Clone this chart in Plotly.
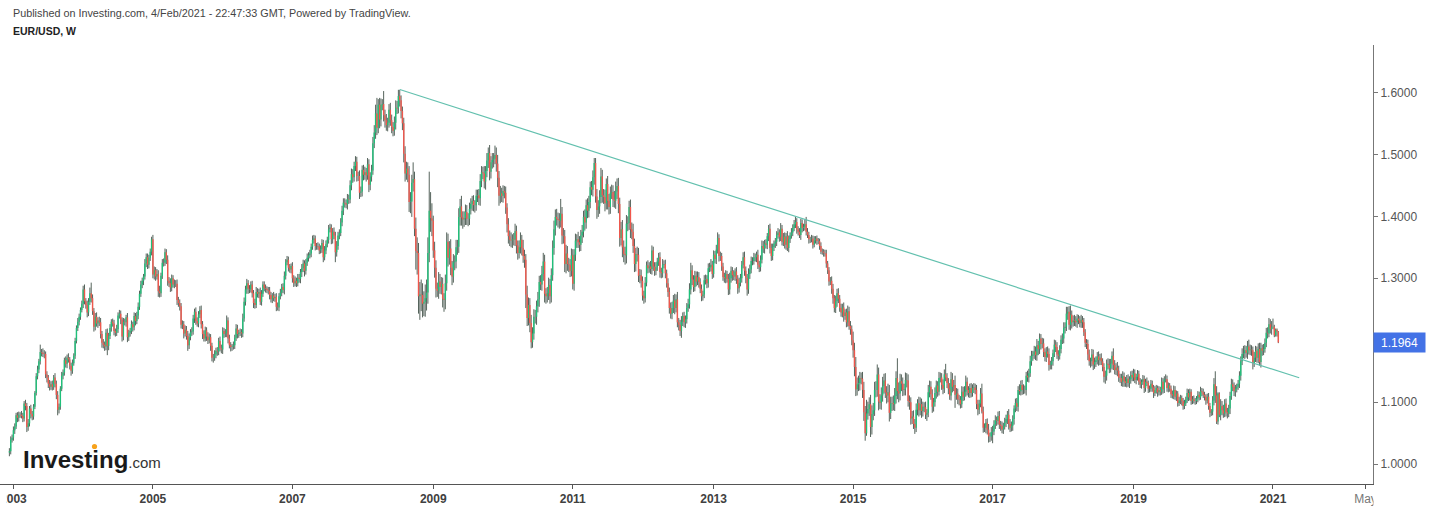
import pandas as pd
import plotly.graph_objects as go

# ---------------- data (weekly EUR/USD) ----------------
first_open = 1.019
c2002 = [1.021, 1.039, 1.043]
u2002 = [5, 6, 5]
d2002 = [6, 5, 4]

c2003 = [1.055, 1.061, 1.079, 1.075, 1.080, 1.080, 1.078, 1.074, 1.098, 1.094, 1.060, 1.066, 1.090,
         1.081, 1.077, 1.093, 1.115, 1.142, 1.153, 1.166, 1.181, 1.180, 1.178, 1.178, 1.145, 1.140,
         1.130, 1.125, 1.129, 1.125, 1.140, 1.130, 1.112, 1.088, 1.093, 1.122, 1.143, 1.148, 1.168,
         1.162, 1.172, 1.169, 1.159, 1.151, 1.163, 1.175, 1.199, 1.220, 1.230, 1.238, 1.249, 1.259]
u2003 = [6, 5, 4, 5, 5, 4, 6, 5, 4, 6, 5, 7, 4, 6, 5, 4, 3, 5, 6, 4, 12, 5, 7, 6, 4, 5,
         4, 6, 5, 6, 4, 7, 5, 6, 5, 4, 6, 5, 4, 6, 5, 7, 4, 5, 6, 4, 5, 4, 6, 5, 4, 5]
d2003 = [5, 6, 4, 7, 6, 5, 4, 6, 5, 7, 8, 6, 5, 7, 6, 5, 4, 4, 5, 6, 5, 6, 5, 7, 6, 8,
         7, 6, 5, 6, 5, 6, 7, 9, 6, 5, 4, 6, 5, 6, 7, 5, 6, 8, 5, 4, 5, 4, 5, 6, 5, 4]

c2004 = [1.282, 1.263, 1.257, 1.245, 1.262, 1.276, 1.268, 1.247, 1.222, 1.238, 1.227, 1.232, 1.229,
         1.210, 1.196, 1.193, 1.190, 1.212, 1.191, 1.207, 1.220, 1.230, 1.227, 1.215, 1.212, 1.218,
         1.240, 1.243, 1.233, 1.206, 1.230, 1.229, 1.237, 1.205, 1.212, 1.215, 1.226, 1.221, 1.239,
         1.231, 1.240, 1.254, 1.275, 1.290, 1.296, 1.303, 1.324, 1.334, 1.322, 1.333, 1.343, 1.363]
u2004 = [6, 8, 5, 7, 6, 9, 17, 6, 5, 6, 7, 5, 6, 7, 5, 6, 5, 6, 7, 5, 6, 4, 5, 6, 4, 7,
         5, 6, 5, 4, 6, 5, 4, 7, 5, 5, 6, 4, 6, 5, 6, 7, 5, 6, 5, 4, 7, 6, 6, 5, 5, 4]
d2004 = [7, 5, 6, 8, 6, 5, 7, 6, 8, 6, 5, 7, 6, 7, 8, 6, 7, 6, 15, 7, 5, 6, 5, 7, 6, 5,
         6, 5, 7, 8, 6, 5, 7, 8, 6, 6, 5, 7, 5, 7, 5, 6, 5, 5, 6, 7, 5, 6, 7, 6, 5, 6]

c2005 = [1.306, 1.313, 1.303, 1.307, 1.279, 1.276, 1.304, 1.325, 1.325, 1.342, 1.330, 1.296, 1.292,
         1.285, 1.300, 1.290, 1.291, 1.291, 1.265, 1.260, 1.255, 1.225, 1.226, 1.211, 1.217, 1.207,
         1.192, 1.205, 1.213, 1.214, 1.235, 1.246, 1.231, 1.227, 1.242, 1.249, 1.226, 1.210, 1.203,
         1.216, 1.206, 1.200, 1.205, 1.191, 1.172, 1.172, 1.177, 1.183, 1.182, 1.199, 1.187, 1.185]
u2005 = [7, 6, 5, 8, 6, 9, 5, 6, 7, 6, 5, 7, 6, 8, 6, 5, 7, 6, 7, 5, 6, 5, 6, 5, 7, 6,
         8, 6, 5, 7, 6, 5, 7, 6, 5, 6, 7, 5, 6, 6, 5, 7, 6, 5, 5, 6, 7, 5, 6, 5, 7, 6]
d2005 = [6, 8, 7, 5, 9, 7, 6, 5, 6, 5, 7, 8, 6, 7, 6, 5, 6, 5, 8, 6, 7, 6, 7, 8, 5, 6,
         9, 6, 5, 6, 5, 7, 6, 5, 6, 6, 7, 8, 5, 5, 7, 6, 5, 8, 6, 8, 5, 6, 7, 6, 5, 6]

c2006 = [1.215, 1.210, 1.211, 1.232, 1.203, 1.192, 1.189, 1.190, 1.192, 1.204, 1.219, 1.210, 1.212,
         1.213, 1.211, 1.235, 1.262, 1.282, 1.292, 1.283, 1.282, 1.290, 1.276, 1.260, 1.257, 1.278,
         1.275, 1.278, 1.262, 1.275, 1.290, 1.284, 1.283, 1.281, 1.280, 1.273, 1.266, 1.272, 1.268,
         1.270, 1.254, 1.253, 1.271, 1.277, 1.286, 1.281, 1.304, 1.326, 1.330, 1.317, 1.314, 1.320]
u2006 = [6, 5, 7, 8, 5, 6, 5, 4, 6, 5, 7, 6, 5, 6, 5, 8, 7, 6, 7, 5, 6, 5, 6, 5, 7, 8,
         6, 5, 7, 6, 5, 5, 6, 4, 5, 6, 5, 4, 6, 5, 6, 7, 5, 6, 5, 6, 7, 5, 6, 5, 6, 4]
d2006 = [7, 6, 5, 6, 8, 5, 7, 6, 5, 6, 5, 7, 6, 5, 7, 6, 5, 6, 7, 8, 6, 5, 7, 8, 6, 5,
         6, 7, 5, 6, 5, 5, 6, 5, 6, 7, 5, 6, 5, 6, 7, 5, 6, 5, 6, 5, 7, 6, 5, 6, 5, 6]

c2007 = [1.300, 1.292, 1.296, 1.292, 1.301, 1.299, 1.310, 1.316, 1.324, 1.312, 1.325, 1.333, 1.337,
         1.340, 1.351, 1.362, 1.364, 1.352, 1.352, 1.351, 1.345, 1.347, 1.357, 1.334, 1.345, 1.355,
         1.362, 1.379, 1.382, 1.363, 1.375, 1.369, 1.342, 1.352, 1.369, 1.373, 1.390, 1.409, 1.422,
         1.421, 1.419, 1.428, 1.427, 1.450, 1.468, 1.463, 1.481, 1.488, 1.465, 1.465, 1.438, 1.440,
         1.475]
u2007 = [6, 5, 7, 5, 6, 6, 5, 7, 6, 5, 6, 7, 5, 6, 5, 7, 6, 5, 5, 6, 5, 6, 6, 5, 7, 6,
         5, 7, 6, 5, 6, 7, 6, 8, 6, 6, 7, 8, 7, 7, 6, 8, 7, 8, 9, 8, 7, 9, 8, 7, 9, 8, 7]
d2007 = [7, 6, 5, 6, 5, 6, 7, 8, 6, 9, 6, 5, 6, 5, 6, 5, 6, 7, 6, 5, 6, 5, 6, 8, 5, 6,
         5, 6, 5, 8, 7, 6, 16, 7, 6, 6, 5, 6, 7, 7, 6, 8, 7, 6, 8, 9, 7, 8, 9, 8, 10, 7, 8]

c2008 = [1.467, 1.471, 1.466, 1.484, 1.451, 1.464, 1.474, 1.518, 1.535, 1.566, 1.543, 1.580, 1.556,
         1.580, 1.581, 1.563, 1.555, 1.547, 1.551, 1.572, 1.555, 1.544, 1.538, 1.551, 1.575, 1.574,
         1.594, 1.587, 1.570, 1.550, 1.501, 1.469, 1.477, 1.467, 1.423, 1.424, 1.454, 1.460, 1.380,
         1.344, 1.341, 1.271, 1.274, 1.273, 1.259, 1.262, 1.268, 1.277, 1.341, 1.409, 1.397, 1.393]
u2008 = [8, 9, 7, 10, 8, 7, 9, 10, 12, 14, 25, 9, 11, 10, 8, 21, 9, 10, 8, 9, 11, 9, 8, 10, 12, 11,
         10, 10, 8, 7, 9, 12, 11, 10, 14, 15, 13, 27, 12, 18, 22, 16, 20, 24, 19, 17, 22, 21, 25, 63, 30, 24]
d2008 = [9, 8, 10, 7, 12, 9, 8, 7, 8, 10, 12, 9, 14, 11, 9, 10, 12, 9, 10, 8, 9, 10, 9, 8, 11, 9,
         8, 10, 12, 11, 14, 13, 10, 12, 16, 18, 25, 14, 12, 30, 35, 28, 38, 26, 22, 20, 24, 20, 18, 15, 22, 25]

c2009 = [1.345, 1.317, 1.283, 1.280, 1.295, 1.286, 1.291, 1.267, 1.265, 1.292, 1.359, 1.333, 1.348,
         1.317, 1.303, 1.326, 1.327, 1.350, 1.351, 1.399, 1.416, 1.398, 1.395, 1.397, 1.407, 1.396,
         1.396, 1.412, 1.420, 1.425, 1.418, 1.418, 1.433, 1.434, 1.429, 1.457, 1.471, 1.469, 1.456,
         1.473, 1.490, 1.502, 1.472, 1.487, 1.491, 1.493, 1.499, 1.485, 1.462, 1.433, 1.437, 1.433]
u2009 = [8, 14, 12, 10, 15, 12, 11, 10, 9, 14, 15, 13, 12, 15, 11, 13, 10, 12, 11, 14, 12, 17, 10, 11, 12, 11,
         9, 10, 9, 8, 9, 8, 10, 9, 10, 11, 10, 9, 12, 8, 12, 9, 13, 10, 11, 9, 15, 12, 14, 11, 12, 9]
d2009 = [12, 16, 14, 10, 13, 11, 12, 14, 19, 15, 12, 14, 11, 12, 14, 10, 13, 11, 12, 10, 14, 13, 15, 12, 11, 10,
         12, 10, 9, 11, 10, 12, 9, 10, 11, 12, 10, 9, 11, 13, 10, 12, 14, 11, 10, 12, 9, 13, 15, 16, 12, 10]

c2010 = [1.441, 1.438, 1.414, 1.387, 1.368, 1.362, 1.361, 1.363, 1.362, 1.376, 1.353, 1.341, 1.350,
         1.362, 1.349, 1.336, 1.330, 1.274, 1.236, 1.257, 1.228, 1.197, 1.211, 1.238, 1.238, 1.255,
         1.266, 1.294, 1.290, 1.307, 1.327, 1.275, 1.271, 1.276, 1.289, 1.271, 1.305, 1.349, 1.379,
         1.399, 1.396, 1.394, 1.393, 1.404, 1.369, 1.368, 1.323, 1.340, 1.323, 1.322, 1.312, 1.337]
u2010 = [9, 8, 10, 7, 10, 9, 12, 8, 10, 12, 9, 8, 11, 12, 8, 13, 10, 9, 14, 12, 11, 13, 10, 12, 11, 9,
         12, 10, 11, 13, 14, 11, 9, 10, 12, 10, 11, 12, 14, 12, 13, 10, 11, 24, 11, 12, 10, 14, 12, 10, 9, 11]
d2010 = [11, 9, 10, 13, 12, 10, 11, 12, 9, 10, 13, 11, 9, 10, 12, 11, 13, 22, 13, 12, 15, 10, 9, 10, 11, 13,
         10, 12, 9, 10, 11, 14, 12, 10, 11, 12, 10, 9, 11, 10, 11, 12, 13, 11, 14, 12, 13, 15, 11, 12, 10, 9]

c2011 = [1.291, 1.338, 1.361, 1.363, 1.358, 1.354, 1.369, 1.375, 1.399, 1.390, 1.418, 1.409, 1.423,
         1.447, 1.443, 1.463, 1.486, 1.432, 1.410, 1.416, 1.431, 1.464, 1.434, 1.431, 1.421, 1.452,
         1.425, 1.415, 1.438, 1.439, 1.427, 1.425, 1.440, 1.449, 1.420, 1.365, 1.379, 1.350, 1.339,
         1.337, 1.388, 1.389, 1.415, 1.379, 1.375, 1.352, 1.323, 1.339, 1.338, 1.304, 1.305, 1.296]
u2011 = [10, 9, 11, 8, 12, 10, 9, 11, 10, 12, 9, 11, 10, 9, 10, 11, 8, 8, 12, 10, 11, 14, 11, 10, 12, 9,
         13, 11, 10, 12, 11, 14, 16, 12, 13, 10, 12, 15, 11, 12, 14, 11, 10, 12, 11, 13, 12, 10, 12, 11, 10, 9]
d2011 = [9, 11, 10, 12, 9, 11, 10, 12, 9, 13, 10, 12, 11, 10, 9, 11, 12, 10, 14, 11, 12, 10, 12, 11, 13, 10,
         14, 12, 11, 10, 12, 11, 13, 12, 15, 14, 12, 16, 13, 15, 13, 12, 11, 14, 12, 11, 13, 12, 11, 10, 12, 11]

c2012 = [1.272, 1.268, 1.293, 1.321, 1.316, 1.319, 1.315, 1.345, 1.319, 1.312, 1.318, 1.327, 1.334,
         1.310, 1.308, 1.322, 1.323, 1.308, 1.292, 1.278, 1.252, 1.243, 1.252, 1.264, 1.252, 1.266,
         1.229, 1.225, 1.215, 1.230, 1.239, 1.229, 1.234, 1.252, 1.258, 1.282, 1.313, 1.298, 1.286,
         1.304, 1.295, 1.302, 1.294, 1.283, 1.271, 1.274, 1.297, 1.299, 1.292, 1.316, 1.318, 1.322,
         1.307]
u2012 = [7, 8, 9, 6, 8, 7, 9, 8, 6, 7, 8, 6, 7, 8, 7, 9, 6, 7, 6, 8, 7, 9, 10, 9, 11, 8,
         12, 7, 8, 9, 6, 7, 6, 8, 9, 10, 12, 8, 7, 8, 7, 9, 8, 6, 7, 6, 8, 7, 6, 8, 7, 9, 6]
d2012 = [8, 9, 7, 6, 8, 7, 8, 9, 7, 8, 7, 6, 7, 9, 8, 7, 6, 8, 7, 8, 9, 8, 9, 8, 10, 7,
         8, 9, 8, 11, 7, 8, 9, 7, 6, 7, 8, 9, 8, 7, 8, 6, 9, 7, 8, 7, 6, 7, 8, 7, 6, 7, 8]

c2013 = [1.338, 1.331, 1.346, 1.365, 1.336, 1.336, 1.319, 1.302, 1.300, 1.307, 1.299, 1.282, 1.300,
         1.312, 1.305, 1.303, 1.311, 1.299, 1.284, 1.293, 1.300, 1.322, 1.334, 1.312, 1.301, 1.282,
         1.307, 1.314, 1.328, 1.328, 1.334, 1.334, 1.338, 1.322, 1.318, 1.330, 1.352, 1.348, 1.356,
         1.354, 1.368, 1.380, 1.349, 1.336, 1.350, 1.356, 1.359, 1.370, 1.374, 1.367, 1.380, 1.359]
u2013 = [7, 6, 8, 9, 6, 7, 5, 6, 7, 6, 5, 8, 9, 7, 6, 8, 5, 7, 6, 8, 7, 6, 8, 9, 7, 6,
         9, 8, 7, 6, 7, 6, 5, 8, 6, 7, 9, 8, 6, 7, 5, 6, 8, 7, 6, 5, 6, 6, 7, 5, 9, 6]
d2013 = [6, 7, 8, 6, 9, 8, 7, 6, 7, 8, 6, 9, 8, 7, 9, 6, 7, 8, 9, 7, 6, 7, 6, 8, 9, 10,
         7, 8, 6, 7, 6, 7, 8, 7, 8, 7, 6, 7, 8, 6, 7, 8, 9, 8, 7, 6, 7, 7, 6, 8, 7, 6]

c2014 = [1.367, 1.354, 1.368, 1.349, 1.363, 1.369, 1.374, 1.381, 1.387, 1.391, 1.379, 1.375, 1.370,
         1.389, 1.381, 1.383, 1.387, 1.375, 1.370, 1.363, 1.363, 1.364, 1.354, 1.361, 1.364, 1.360,
         1.360, 1.352, 1.343, 1.343, 1.341, 1.340, 1.324, 1.313, 1.295, 1.296, 1.283, 1.268, 1.252,
         1.263, 1.276, 1.267, 1.252, 1.245, 1.253, 1.239, 1.245, 1.229, 1.247, 1.223, 1.218, 1.200]
u2014 = [6, 7, 5, 8, 6, 5, 7, 6, 7, 8, 6, 5, 6, 7, 6, 5, 8, 12, 6, 5, 4, 6, 5, 7, 4, 5,
         5, 4, 6, 5, 4, 5, 6, 4, 5, 6, 7, 8, 5, 9, 7, 8, 6, 7, 6, 8, 5, 6, 9, 7, 8, 6]
d2014 = [7, 6, 8, 5, 7, 6, 5, 6, 5, 6, 7, 6, 5, 8, 7, 5, 6, 6, 5, 7, 6, 5, 6, 4, 5, 6,
         5, 6, 4, 5, 6, 5, 7, 6, 7, 6, 8, 9, 7, 8, 9, 7, 6, 7, 8, 9, 6, 8, 7, 6, 9, 8]

c2015 = [1.184, 1.157, 1.121, 1.129, 1.131, 1.139, 1.138, 1.120, 1.084, 1.050, 1.082, 1.089, 1.097,
         1.060, 1.081, 1.087, 1.120, 1.120, 1.145, 1.101, 1.099, 1.111, 1.126, 1.135, 1.116, 1.111,
         1.116, 1.083, 1.098, 1.099, 1.097, 1.110, 1.139, 1.118, 1.114, 1.134, 1.130, 1.120, 1.121,
         1.136, 1.135, 1.102, 1.100, 1.074, 1.077, 1.065, 1.059, 1.088, 1.099, 1.087, 1.097, 1.086]
u2015 = [14, 12, 16, 11, 12, 10, 9, 11, 13, 10, 22, 12, 11, 15, 14, 12, 13, 14, 16, 11, 12, 13, 15, 11, 12, 10,
         14, 12, 11, 10, 12, 13, 11, 32, 14, 12, 11, 10, 9, 12, 11, 10, 9, 8, 9, 10, 8, 10, 6, 10, 11, 9]
d2015 = [12, 15, 11, 10, 11, 12, 9, 13, 14, 12, 4, 10, 11, 16, 12, 10, 9, 12, 11, 14, 10, 11, 10, 12, 9, 13,
         11, 14, 10, 12, 10, 11, 12, 13, 14, 11, 12, 10, 9, 10, 11, 9, 12, 10, 9, 8, 10, 7, 9, 10, 8, 11]

c2016 = [1.093, 1.092, 1.080, 1.083, 1.116, 1.125, 1.113, 1.093, 1.100, 1.115, 1.127, 1.117, 1.139,
         1.140, 1.128, 1.122, 1.145, 1.140, 1.131, 1.122, 1.111, 1.137, 1.125, 1.128, 1.112, 1.114,
         1.105, 1.104, 1.097, 1.117, 1.109, 1.117, 1.133, 1.120, 1.115, 1.123, 1.115, 1.123, 1.124,
         1.120, 1.097, 1.088, 1.098, 1.114, 1.085, 1.059, 1.059, 1.067, 1.056, 1.045, 1.045, 1.052]
u2016 = [8, 7, 9, 6, 12, 10, 9, 8, 7, 9, 8, 7, 10, 8, 7, 9, 8, 17, 7, 8, 9, 12, 10, 8, 15, 9,
         8, 7, 6, 9, 8, 9, 10, 7, 6, 7, 8, 6, 7, 6, 8, 7, 6, 9, 16, 8, 7, 6, 7, 9, 6, 8]
d2016 = [9, 8, 7, 10, 7, 8, 9, 10, 8, 7, 9, 8, 6, 7, 8, 9, 7, 6, 8, 9, 7, 8, 9, 7, 21, 8,
         8, 9, 7, 6, 7, 6, 8, 9, 7, 8, 7, 6, 8, 7, 8, 9, 7, 6, 3, 8, 7, 9, 8, 10, 9, 7]

c2017 = [1.053, 1.064, 1.071, 1.070, 1.078, 1.064, 1.062, 1.056, 1.062, 1.067, 1.073, 1.080, 1.065,
         1.059, 1.062, 1.073, 1.090, 1.099, 1.093, 1.120, 1.118, 1.128, 1.120, 1.120, 1.120, 1.143,
         1.140, 1.147, 1.166, 1.175, 1.177, 1.182, 1.176, 1.192, 1.186, 1.203, 1.194, 1.195, 1.181,
         1.173, 1.182, 1.178, 1.160, 1.161, 1.166, 1.179, 1.193, 1.189, 1.177, 1.175, 1.186, 1.201]
u2017 = [9, 7, 8, 6, 7, 8, 6, 7, 5, 8, 7, 6, 9, 8, 7, 6, 5, 7, 8, 6, 9, 7, 8, 9, 7, 6,
         8, 7, 9, 8, 6, 9, 8, 10, 7, 8, 7, 9, 8, 6, 7, 8, 9, 6, 7, 6, 8, 7, 8, 7, 6, 7]
d2017 = [18, 6, 7, 8, 6, 7, 8, 6, 7, 6, 7, 8, 9, 7, 6, 8, 9, 6, 7, 8, 6, 7, 8, 7, 6, 9,
         7, 8, 6, 7, 8, 7, 8, 9, 10, 8, 9, 7, 8, 7, 8, 6, 9, 7, 8, 7, 6, 8, 7, 8, 6, 7]

c2018 = [1.203, 1.220, 1.222, 1.243, 1.246, 1.225, 1.241, 1.229, 1.232, 1.231, 1.229, 1.235, 1.232,
         1.228, 1.233, 1.229, 1.213, 1.196, 1.194, 1.177, 1.166, 1.166, 1.177, 1.161, 1.165, 1.168,
         1.174, 1.168, 1.172, 1.166, 1.157, 1.141, 1.143, 1.162, 1.160, 1.155, 1.162, 1.175, 1.160,
         1.152, 1.156, 1.151, 1.140, 1.139, 1.133, 1.142, 1.134, 1.131, 1.138, 1.131, 1.137, 1.144,
         1.140]
u2018 = [8, 9, 7, 11, 8, 9, 15, 7, 8, 9, 8, 7, 6, 7, 8, 6, 7, 5, 6, 7, 8, 6, 9, 8, 7, 6,
         7, 8, 6, 7, 5, 6, 8, 7, 9, 10, 8, 7, 12, 8, 7, 9, 8, 6, 7, 8, 6, 7, 6, 7, 5, 6, 7]
d2018 = [7, 8, 9, 7, 10, 8, 9, 10, 7, 8, 7, 9, 6, 7, 8, 9, 6, 7, 8, 9, 7, 10, 8, 9, 7, 8,
         7, 9, 8, 6, 7, 9, 11, 8, 7, 8, 7, 9, 8, 7, 8, 9, 7, 8, 7, 8, 9, 6, 7, 6, 8, 7, 6]

c2019 = [1.147, 1.136, 1.141, 1.146, 1.133, 1.129, 1.133, 1.137, 1.123, 1.133, 1.131, 1.122, 1.122,
         1.130, 1.124, 1.115, 1.120, 1.123, 1.116, 1.120, 1.117, 1.133, 1.121, 1.137, 1.137, 1.123,
         1.127, 1.122, 1.113, 1.111, 1.120, 1.109, 1.114, 1.099, 1.103, 1.107, 1.102, 1.094, 1.098,
         1.104, 1.115, 1.108, 1.117, 1.102, 1.105, 1.102, 1.102, 1.106, 1.112, 1.108, 1.118, 1.116]
u2019 = [7, 6, 5, 6, 5, 6, 4, 7, 6, 5, 7, 4, 5, 6, 5, 4, 6, 5, 4, 6, 5, 7, 6, 5, 8, 6,
         5, 4, 5, 6, 7, 6, 5, 4, 6, 5, 4, 5, 6, 5, 7, 6, 5, 4, 5, 6, 5, 4, 6, 5, 7, 5]
d2019 = [6, 5, 7, 6, 5, 6, 7, 5, 8, 6, 5, 7, 6, 5, 7, 8, 5, 6, 7, 5, 6, 5, 7, 6, 5, 6,
         7, 5, 6, 5, 6, 5, 7, 6, 5, 6, 7, 6, 5, 4, 5, 6, 5, 6, 5, 4, 6, 5, 6, 5, 4, 6]

c2020 = [1.112, 1.109, 1.103, 1.109, 1.094, 1.083, 1.085, 1.103, 1.129, 1.111, 1.069, 1.114, 1.080,
         1.094, 1.087, 1.082, 1.098, 1.084, 1.082, 1.090, 1.110, 1.129, 1.125, 1.118, 1.122, 1.125,
         1.130, 1.143, 1.166, 1.178, 1.179, 1.184, 1.180, 1.190, 1.184, 1.185, 1.184, 1.163, 1.172,
         1.183, 1.172, 1.186, 1.165, 1.187, 1.183, 1.186, 1.196, 1.212, 1.211, 1.226, 1.218, 1.221]
u2020 = [6, 5, 4, 5, 6, 5, 4, 7, 10, 21, 15, 2, 2, 11, 8, 9, 7, 8, 7, 6, 7, 9, 8, 7, 6, 5,
         6, 7, 8, 9, 12, 8, 7, 9, 11, 8, 7, 6, 9, 8, 7, 9, 10, 9, 6, 8, 7, 8, 9, 10, 8, 10]
d2020 = [5, 6, 7, 5, 6, 7, 5, 6, 8, 12, 4, 5, 4, 9, 8, 7, 6, 7, 8, 6, 9, 6, 7, 8, 9, 6,
         5, 7, 8, 6, 7, 9, 8, 10, 7, 8, 9, 10, 6, 7, 8, 9, 6, 9, 8, 7, 6, 7, 8, 6, 7, 9]

c2021 = [1.222, 1.208, 1.217, 1.214, 1.1964]
u2021 = [13, 3, 2, 2, 1]
d2021 = [3, 3, 2, 8, 1]

years = list(range(2002, 2022))
close_by_year = [c2002, c2003, c2004, c2005, c2006, c2007, c2008, c2009, c2010, c2011,
                 c2012, c2013, c2014, c2015, c2016, c2017, c2018, c2019, c2020, c2021]
upwick_by_year = [u2002, u2003, u2004, u2005, u2006, u2007, u2008, u2009, u2010, u2011,
                  u2012, u2013, u2014, u2015, u2016, u2017, u2018, u2019, u2020, u2021]
downwick_by_year = [d2002, d2003, d2004, d2005, d2006, d2007, d2008, d2009, d2010, d2011,
                    d2012, d2013, d2014, d2015, d2016, d2017, d2018, d2019, d2020, d2021]
first_week = {2002: "2002-12-16"}

last_price = 1.1964
trend_dates = ["2008-07-14", "2021-05-21"]
trend_prices = [1.6045, 1.1395]

x_tick_dates = ["2003-01-06", "2005-01-03", "2007-01-01", "2009-01-05", "2011-01-03",
                "2013-01-07", "2015-01-05", "2017-01-02", "2019-01-07", "2021-01-04", "2022-05-02"]
x_tick_text = ["2003", "2005", "2007", "2009", "2011", "2013", "2015", "2017", "2019", "2021", "May"]
y_ticks = [1.0, 1.1, 1.2, 1.3, 1.4, 1.5, 1.6]

# ---------------- build OHLC ----------------
dates, opens, closes, highs, lows = [], [], [], [], []
prev = first_open
for y, cl, ul, dl in zip(years, close_by_year, upwick_by_year, downwick_by_year):
    start = first_week.get(y, f"{y}-01-01")
    ds = pd.date_range(start, periods=len(cl), freq="W-MON")
    for i, (d, c) in enumerate(zip(ds, cl)):
        u = ul[i] if i < len(ul) else ul[-1]
        w = dl[i] if i < len(dl) else dl[-1]
        o = prev
        dates.append(d)
        opens.append(o)
        closes.append(c)
        highs.append(max(o, c) + u / 1000)
        lows.append(min(o, c) - w / 1000)
        prev = c

wx, wy = [], []
ux, uy, dx, dy = [], [], [], []
for d, o, c, h, l in zip(dates, opens, closes, highs, lows):
    wx += [d, d, None]
    wy += [l, h, None]
    if c >= o:
        ux += [d, d, None]
        uy += [o, c, None]
    else:
        dx += [d, d, None]
        dy += [o, c, None]

fig = go.Figure()
fig.add_trace(go.Scatter(x=wx, y=wy, mode="lines", line=dict(color="rgba(38,56,46,0.78)", width=1),
                         hoverinfo="skip", showlegend=False))
fig.add_trace(go.Scatter(x=ux, y=uy, mode="lines", line=dict(color="#1fc07a", width=1.4),
                         hoverinfo="skip", showlegend=False))
fig.add_trace(go.Scatter(x=dx, y=dy, mode="lines", line=dict(color="#f0574c", width=1.4),
                         hoverinfo="skip", showlegend=False))
fig.add_trace(go.Scatter(x=trend_dates, y=trend_prices, mode="lines",
                         line=dict(color="#62c0ae", width=1.2), hoverinfo="skip", showlegend=False))

font_family = "Liberation Sans, Arial, sans-serif"
PLOT_W = 1373.0
PLOT_TOP, PLOT_BOT = 45.0, 484.0


def px_x(p):
    return p / PLOT_W


def px_y(p):
    return (PLOT_BOT - p) / (PLOT_BOT - PLOT_TOP)


annotations = [
    dict(text="Published on Investing.com, 4/Feb/2021 - 22:47:33 GMT, Powered by TradingView.",
         xref="paper", yref="paper", x=px_x(11), y=px_y(13), xanchor="left", yanchor="middle",
         showarrow=False, font=dict(family=font_family, size=10.8, color="#444444")),
    dict(text="<b>EUR/USD, W</b>",
         xref="paper", yref="paper", x=px_x(11), y=px_y(31), xanchor="left", yanchor="middle",
         showarrow=False, font=dict(family=font_family, size=10.5, color="#222222")),
    dict(text="<b>Investing</b><span style='font-size:15px;color:#333'>.com</span>",
         xref="paper", yref="paper", x=px_x(21), y=px_y(459), xanchor="left", yanchor="middle",
         showarrow=False, font=dict(family=font_family, size=24, color="#1a1a1a")),
    dict(text="1.1964", xref="paper", yref="y", x=1.0, y=last_price, xanchor="left", yanchor="middle",
         showarrow=False, bgcolor="#4372e6", width=49, height=17, borderpad=1,
         font=dict(family=font_family, size=12, color="#ffffff")),
]

shapes = [
    dict(type="circle", xref="paper", yref="paper", xsizemode="pixel", ysizemode="pixel",
         xanchor=px_x(94.5), yanchor=px_y(446.5), x0=-2.6, x1=2.6, y0=-2.6, y1=2.6,
         fillcolor="#f7a21b", line=dict(width=0), layer="above"),
    # right label pane clips the last x label
    dict(type="rect", xref="paper", yref="paper", xsizemode="pixel", ysizemode="pixel",
         xanchor=1.0, yanchor=0.0, x0=0.5, x1=70, y0=-3, y1=-40,
         fillcolor="#ffffff", line=dict(width=0), layer="above"),
    # left edge clips the first x label
    dict(type="rect", xref="paper", yref="paper", xsizemode="pixel", ysizemode="pixel",
         xanchor=0.0, yanchor=0.0, x0=-5, x1=6.5, y0=-6, y1=-40,
         fillcolor="#ffffff", line=dict(width=0), layer="above"),
]

fig.update_layout(
    width=1431, height=510,
    margin=dict(l=0, r=58, t=45, b=26),
    paper_bgcolor="#ffffff", plot_bgcolor="#ffffff",
    showlegend=False,
    hovermode=False,
    annotations=annotations,
    shapes=shapes,
    xaxis=dict(type="date", range=["2002-10-28", "2022-06-10"], showgrid=False, zeroline=False,
               showline=True, linecolor="#555555", linewidth=1,
               ticks="outside", ticklen=4, tickcolor="#555555", tickwidth=1,
               tickvals=x_tick_dates,
               ticktext=[("<b>%s</b>" % t) if t != "May" else "<span style='color:#777'>May</span>"
                         for t in x_tick_text],
               tickfont=dict(family=font_family, size=12, color="#404040"),
               ticklabeloverflow="allow", fixedrange=True),
    yaxis=dict(side="right", range=[0.9682, 1.6763], showgrid=False, zeroline=False,
               showline=True, linecolor="#777777", linewidth=1,
               ticks="outside", ticklen=4, tickcolor="#777777", tickwidth=1,
               tickvals=y_ticks, ticktext=["%.4f" % v for v in y_ticks],
               tickfont=dict(family=font_family, size=12, color="#555555"), fixedrange=True),
)

fig.write_html("out.html", config={"displayModeBar": False, "staticPlot": False})
